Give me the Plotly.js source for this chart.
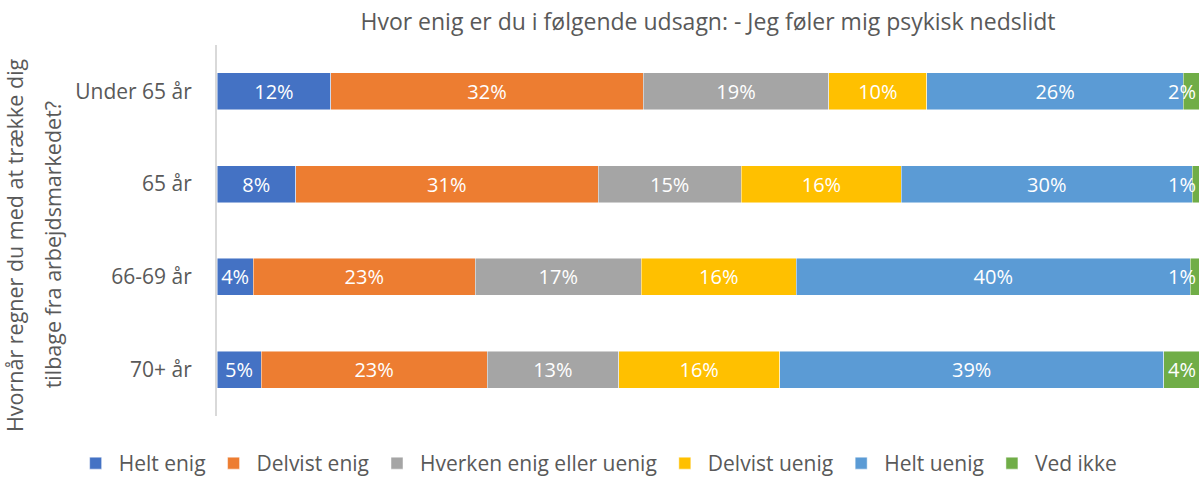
<!DOCTYPE html>
<html>
<head>
<meta charset="utf-8">
<script src="https://cdn.plot.ly/plotly-3.0.1.min.js"></script>
<style>html,body{margin:0;padding:0;background:#fff;}#chart{width:1200px;height:478px;}</style>
</head>
<body>
<div id="chart"></div>
<script>
// Categories (top to bottom)
const categories = ["Under 65 år", "65 år", "66-69 år", "70+ år"];
// Series values (percent of respondents)
const heltEnig    = [11.6, 8.0, 3.7, 4.5];
const delvistEnig = [31.8, 30.8, 22.6, 23.0];
const hverken     = [18.9, 14.6, 16.9, 13.4];
const delvistUenig= [10.0, 16.3, 15.8, 16.4];
const heltUenig   = [26.1, 29.6, 40.1, 39.1];
const vedIkke     = [1.6, 0.7, 0.9, 3.6];
const seriesNames = ["Helt enig", "Delvist enig", "Hverken enig eller uenig", "Delvist uenig", "Helt uenig", "Ved ikke"];
const seriesValues = [heltEnig, delvistEnig, hverken, delvistUenig, heltUenig, vedIkke];
const seriesColors = ["#4472C4", "#ED7D31", "#A5A5A5", "#FFC000", "#5B9BD5", "#70AD47"];
const yTitleLines = ["Hvornår regner du med at trække dig", "tilbage fra arbejdsmarkedet?"];

const FONT = "Open Sans, Noto Sans, sans-serif";
const GREY = "#595959";
const LABEL_SIZE = 20;

const lastIdx = seriesNames.length - 1;
const traces = seriesNames.map((name, i) => ({
  type: "bar",
  orientation: "h",
  name: name,
  y: categories,
  x: seriesValues[i],
  marker: {color: seriesColors[i], line: {color: "rgba(255,255,255,0.6)", width: 0.8}},
  texttemplate: "%{x:.0f}%",
  textposition: i === lastIdx ? "none" : "inside",
  insidetextanchor: "middle",
  textangle: 0,
  constraintext: "none",
  cliponaxis: false,
  textfont: {family: FONT, size: LABEL_SIZE, color: "#ffffff"},
  hoverinfo: "name+x"
}));

// Labels of the last (thin) series, right-aligned at the end of each stacked bar
const lastLabels = categories.map((c, k) => {
  const total = Math.round(seriesValues.reduce((s, arr) => s + arr[k], 0) * 100) / 100;
  return {
    x: Math.min(total, 100), y: c, xref: "x", yref: "y",
    xanchor: "right", yanchor: "middle", xshift: -1,
    text: Math.round(vedIkke[k]) + "%",
    showarrow: false,
    font: {family: FONT, size: LABEL_SIZE, color: "#ffffff"}
  };
});

// Rotated y-axis title, one annotation per line
const yTitleX = [-0.206, -0.168];
const yTitle = yTitleLines.map((t, i) => ({
  text: t,
  textangle: -90,
  xref: "paper", x: yTitleX[i], xanchor: "center",
  yref: "paper", y: 0.46, yanchor: "middle",
  showarrow: false,
  font: {family: FONT, size: 21.5, color: GREY}
}));

const layout = {
  width: 1200,
  height: 478,
  margin: {l: 217, r: 1, t: 45, b: 62, autoexpand: false},
  barmode: "stack",
  bargap: 0.6,
  paper_bgcolor: "#ffffff",
  plot_bgcolor: "#ffffff",
  font: {family: FONT, color: GREY},
  title: {
    text: "Hvor enig er du i følgende udsagn: - Jeg føler mig psykisk nedslidt",
    font: {family: FONT, size: 23, color: GREY},
    xref: "paper", x: 0.5, xanchor: "center",
    yref: "container", y: 0.954, yanchor: "middle"
  },
  xaxis: {
    range: [0, 100],
    showgrid: false, zeroline: false, showticklabels: false, showline: false, ticks: "",
    fixedrange: true
  },
  yaxis: {
    categoryorder: "array",
    categoryarray: categories.slice().reverse(),
    autorange: false,
    range: [-0.5, 3.5],
    showline: true, linecolor: "#D9D9D9", linewidth: 2,
    showgrid: false, zeroline: false,
    ticks: "", ticklabelstandoff: 19,
    tickfont: {family: FONT, size: 21, color: GREY},
    fixedrange: true
  },
  legend: {
    orientation: "h",
    xref: "paper", x: -0.147, xanchor: "left",
    yref: "paper", y: -0.128, yanchor: "middle",
    font: {family: FONT, size: 21, color: GREY},
    itemwidth: 36,
    maxheight: 80,
    traceorder: "normal",
    itemclick: false
  },
  annotations: yTitle.concat(lastLabels),
  showlegend: true
};

Plotly.newPlot("chart", traces, layout, {displayModeBar: false});
</script>
</body>
</html>
